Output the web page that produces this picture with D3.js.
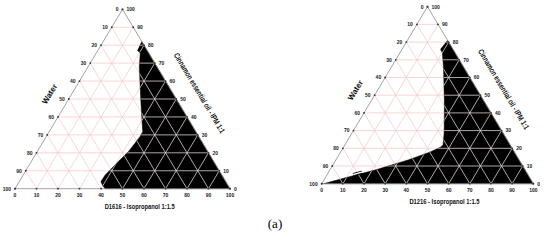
<!DOCTYPE html>
<html>
<head>
<meta charset="utf-8">
<script src="https://cdn.jsdelivr.net/npm/d3@7"></script>
<style>
  html, body { margin: 0; padding: 0; background: #fff; }
  svg { display: block; }
</style>
</head>
<body>
<script>
// tick values on the three axes
const tickValues = [0, 10, 20, 30, 40, 50, 60, 70, 80, 90, 100];
const gridValues = [10, 20, 30, 40, 50, 60, 70, 80, 90];

// axis titles
const bottomTitles = ["D1616 - Isopropanol 1:1.5", "D1216 - Isopropanol 1:1.5"];
const leftTitle = "Water";
const rightTitle = "Cinnamon essential oil - IPM 1:1";
const figureLabel = "(a)";

// boundary of the black region, [surfactant %, oil %] (water = rest)
const regionD1616 = [
  [18, 82], [18.5, 77], [20.5, 75.5], [23.8, 68], [28.8, 58.7], [33.8, 49.4],
  [38.9, 40.1], [43.5, 31.8], [43.6, 29], [43.1, 25.3], [42.4, 20.6], [40.8, 16],
  [39.3, 11.4], [38.1, 7.6], [38, 3.9], [39.8, 1.9], [41.9, 0], [100, 0]
];
const regionD1216 = [
  [19, 81], [18.2, 75.9], [20, 74], [24.5, 66.1], [29.4, 56.7], [34.3, 47.3],
  [39, 37.9], [43.6, 28.5], [46.4, 21.9], [45.8, 20.6], [42.3, 17.9], [34.1, 13.4],
  [21.3, 7.7], [10.7, 3.8], [4, 1.2], [1, 0], [100, 0]
];
// small white dash drawn on the D1216 boundary
const dashD1216 = [[12.3, 5.2], [15.8, 6.5]];

const svg = d3.select("body").append("svg")
  .attr("width", 550)
  .attr("height", 244);

function drawPanel(id, box, region, title, dash) {
  // box: left, right, bottom, top in pixels
  const x = d3.scaleLinear().domain([0, 100]).range([box.left, box.right]);
  const y = d3.scaleLinear().domain([0, 100]).range([box.bottom, box.top]);
  const px = (s, o) => x(s + o / 2);
  const py = (s, o) => y(o);
  const line = d3.line().x(d => px(d[0], d[1])).y(d => py(d[0], d[1]));

  const g = svg.append("g");

  // grid lines, three directions
  const grid = [];
  gridValues.forEach(v => {
    grid.push([[0, v], [100 - v, v]]);          // oil constant
    grid.push([[v, 0], [v, 100 - v]]);          // surfactant constant
    grid.push([[100 - v, 0], [0, 100 - v]]);    // water constant
  });

  g.selectAll(".grid")
    .data(grid)
    .enter()
    .append("path")
    .attr("d", d => line(d))
    .attr("fill", "none")
    .attr("stroke", "#f5c6c6")
    .attr("stroke-width", 0.7);

  // black region
  g.append("clipPath")
    .attr("id", "clip" + id)
    .append("path")
    .attr("d", line(region) + "Z");

  g.append("path")
    .attr("d", line(region) + "Z")
    .attr("fill", "#000")
    .attr("stroke", "#000")
    .attr("stroke-width", 0.5);

  // grid over black
  g.append("g")
    .attr("clip-path", `url(#clip${id})`)
    .selectAll("path")
    .data(grid)
    .enter()
    .append("path")
    .attr("d", d => line(d))
    .attr("fill", "none")
    .attr("stroke", "#dccfcf")
    .attr("stroke-width", 0.8);

  if (dash) {
    g.append("path").attr("d", line(dash)).attr("stroke", "#000").attr("stroke-width", 3.2);
    g.append("path").attr("d", line(dash)).attr("stroke", "#fff").attr("stroke-width", 1.4);
  }

  // triangle border
  g.append("path")
    .attr("d", line([[0, 0], [100, 0], [0, 100]]) + "Z")
    .attr("fill", "none")
    .attr("stroke", "#8a8a8a")
    .attr("stroke-width", 0.8);

  const lab = g.append("g")
    .style("font-family", "'Liberation Sans', Arial, sans-serif")
    .style("font-weight", "bold")
    .style("font-size", "5px")
    .attr("fill", "#222");

  // bottom axis (surfactant)
  tickValues.forEach(v => {
    g.append("circle").attr("cx", px(v, 0)).attr("cy", py(v, 0)).attr("r", 0.9).attr("fill", "#333");
    lab.append("text")
      .attr("x", px(v, 0))
      .attr("y", py(v, 0) + 8.5)
      .attr("text-anchor", "middle")
      .text(v);
  });
  // left axis (water)
  tickValues.forEach(v => {
    const s = 0, o = 100 - v;
    g.append("circle").attr("cx", px(s, o)).attr("cy", py(s, o)).attr("r", 0.9).attr("fill", "#333");
    lab.append("text")
      .attr("x", px(s, o) - 4)
      .attr("y", py(s, o) + 1.8)
      .attr("text-anchor", "end")
      .text(v);
  });
  // right axis (oil)
  tickValues.forEach(v => {
    const s = 100 - v, o = v;
    g.append("circle").attr("cx", px(s, o)).attr("cy", py(s, o)).attr("r", 0.9).attr("fill", "#333");
    lab.append("text")
      .attr("x", px(s, o) + 4)
      .attr("y", py(s, o) + 1.8)
      .attr("text-anchor", "start")
      .text(v);
  });

  const ang = Math.atan2(box.bottom - box.top, (box.right - box.left) / 2) * 180 / Math.PI;
  const titleStyle = t => t
    .style("font-family", "'Liberation Sans Narrow', 'Arial Narrow', 'Liberation Sans', sans-serif")
    .style("font-weight", "bold")
    .style("font-size", "8px")
    .attr("fill", "#111")
    .attr("text-anchor", "middle");

  g.append("text")
    .attr("x", x(58))
    .attr("y", box.bottom + 20)
    .call(titleStyle)
    .attr("textLength", 70)
    .attr("lengthAdjust", "spacingAndGlyphs")
    .text(title);

  // water title, left side
  const wx = px(0, 52) - 19, wy = py(0, 52);
  g.append("text")
    .attr("transform", `translate(${wx},${wy}) rotate(${-ang})`)
    .call(titleStyle)
    .text(leftTitle);

  // oil title, right side
  const ox = px(48, 52) + 23, oy = py(48, 52) - 1;
  g.append("text")
    .attr("transform", `translate(${ox},${oy}) rotate(${ang})`)
    .call(titleStyle)
    .attr("textLength", 92)
    .attr("lengthAdjust", "spacingAndGlyphs")
    .text(rightTitle);
}

drawPanel("A", { left: 15, right: 230, bottom: 188.7, top: 9.3 }, regionD1616, bottomTitles[0], null);
drawPanel("B", { left: 321.7, right: 533.3, bottom: 183.7, top: 6.7 }, regionD1216, bottomTitles[1], dashD1216);

svg.append("text")
  .attr("x", 275)
  .attr("y", 228)
  .attr("text-anchor", "middle")
  .style("font-family", "'Liberation Serif', 'Times New Roman', serif")
  .style("font-size", "13px")
  .attr("fill", "#000")
  .text(figureLabel);
</script>
</body>
</html>
